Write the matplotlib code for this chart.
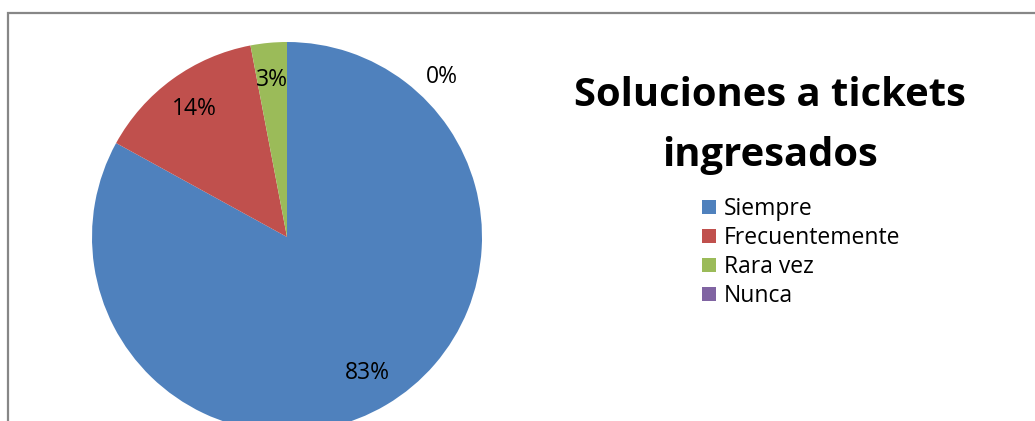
import matplotlib
matplotlib.use('Agg')
import matplotlib.pyplot as plt
from matplotlib.patches import Rectangle
import numpy as np

plt.rcParams['font.family'] = ['Open Sans', 'DejaVu Sans']

# --- datos ---
categorias = ['Siempre', 'Frecuentemente', 'Rara vez', 'Nunca']
porcentajes = [83, 14, 3, 0]
colores = ['#4F81BD', '#C0504D', '#9BBB59', '#8064A2']
titulo = ['Soluciones a tickets', 'ingresados']

W, H = 1035, 421
fig = plt.figure(figsize=(W / 100, H / 100), dpi=100)

# marco gris del área del gráfico
fig.patches.append(Rectangle((8 / W, -0.2), 1.2, 1.2 - 13 / H,
                             transform=fig.transFigure, fill=False,
                             edgecolor='#878787', linewidth=1.6))

# ejes del pastel: centro (287, 237) px, radio 195 px
r = 195
cx, cy = 287, 237
ax = fig.add_axes([(cx - r) / W, (H - cy - r) / H, 2 * r / W, 2 * r / H])

wedges, textos, pcts = ax.pie(porcentajes, colors=colores, startangle=90,
                              counterclock=False, autopct='%1.0f%%',
                              pctdistance=0.81, radius=1.0,
                              wedgeprops=dict(linewidth=0),
                              textprops=dict(fontsize=16.5, color='black'))
ax.set_xlim(-1, 1)
ax.set_ylim(-1, 1)
ax.set_aspect('equal')

# etiqueta del 0% fuera del pastel, a la derecha
for w, t in zip(wedges, pcts):
    if w.theta2 - w.theta1 < 1:
        ang = np.deg2rad(46)
        t.set_position((1.14 * np.cos(ang), 1.14 * np.sin(ang)))

# título en dos líneas
fig.text(770 / W, 1 - 106 / H, titulo[0], ha='center', va='baseline',
         fontsize=28.8, fontweight='bold')
fig.text(770 / W, 1 - 166 / H, titulo[1], ha='center', va='baseline',
         fontsize=28.8, fontweight='bold')

# leyenda
fig.legend(wedges, categorias, loc='upper left',
           bbox_to_anchor=(702 / W, 1 - 197 / H), frameon=False,
           fontsize=16.5, handlelength=0.6, handleheight=0.6,
           handletextpad=0.36, labelspacing=0.22, borderpad=0,
           borderaxespad=0)

fig.savefig('out.png', dpi=100)
